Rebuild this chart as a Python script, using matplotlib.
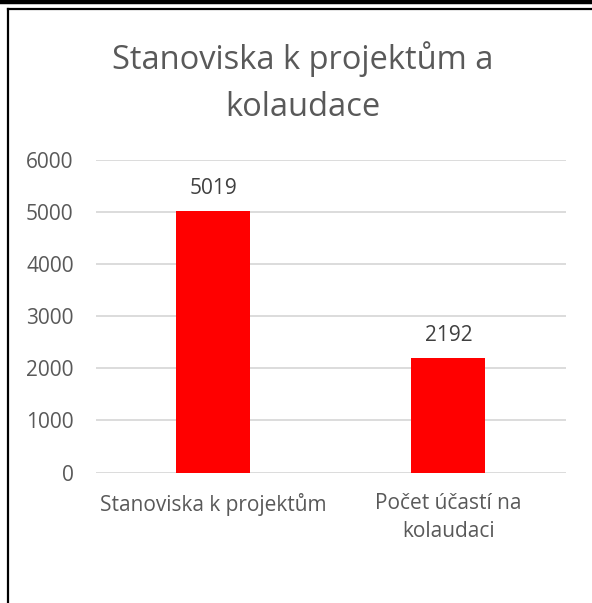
import matplotlib.pyplot as plt
from matplotlib.lines import Line2D
import numpy as np

categories = ['Stanoviska k projektům', 'Počet účastí na\nkolaudaci']
values = [5019, 2192]
title = 'Stanoviska k projektům a\nkolaudace'

plt.rcParams['font.family'] = ['Open Sans', 'DejaVu Sans']

fig = plt.figure(figsize=(5.92, 6.03), dpi=100)
ax = fig.add_axes([0.162, 0.2164, 0.794, 0.519])

x = np.arange(len(categories))
bars = ax.bar(x, values, width=0.315, color='#ff0000', zorder=3)
for b, v in zip(bars, values):
    ax.annotate(str(v), (b.get_x() + b.get_width() / 2, v), xytext=(0, 8.5),
                textcoords='offset points', ha='center', va='bottom',
                fontsize=15, color='#404040')

ax.set_xlim(-0.5, 1.5)
ax.set_ylim(0, 6000)
ax.set_yticks(range(0, 6001, 1000))
ax.yaxis.grid(True, color='#d9d9d9', linewidth=1.3, zorder=0)
ax.set_xticks(x)
ax.set_xticklabels(categories, linespacing=1.45)
ax.tick_params(axis='both', length=0, labelsize=15, colors='#595959')
ax.tick_params(axis='y', pad=16)
ax.tick_params(axis='x', pad=14.5)
for s in ax.spines.values():
    s.set_visible(False)

fig.text(0.512, 0.931, title, ha='center', va='top', fontsize=23.5,
         color='#595959', linespacing=1.55)

# frame
fig.add_artist(Line2D([0, 1], [1 - 2 / 603, 1 - 2 / 603], color='black', linewidth=3.2,
                      transform=fig.transFigure))
fig.add_artist(Line2D([7.5 / 592, 1], [1 - 9 / 603, 1 - 9 / 603], color='black', linewidth=1.6,
                      transform=fig.transFigure))
fig.add_artist(Line2D([7.5 / 592, 7.5 / 592], [0, 1 - 9 / 603], color='black', linewidth=1.6,
                      transform=fig.transFigure))

fig.savefig('out.png', dpi=100)
